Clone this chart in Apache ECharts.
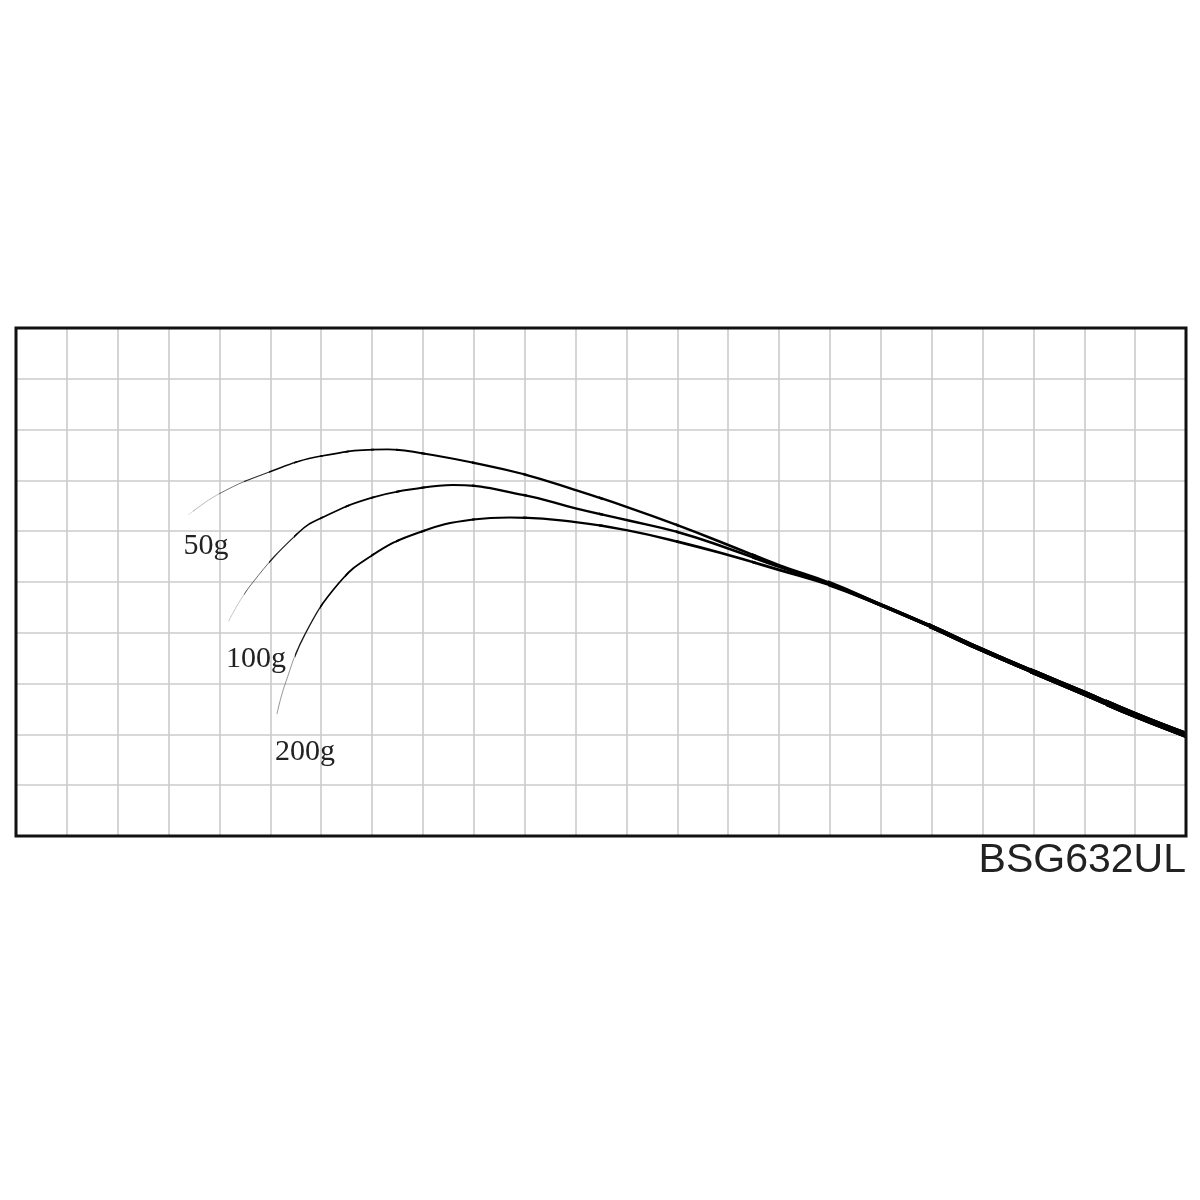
<!DOCTYPE html>
<html>
<head>
<meta charset="utf-8">
<script src="https://cdn.jsdelivr.net/npm/echarts@6/dist/echarts.min.js"></script>
<style>
html, body { margin: 0; padding: 0; background: #fff; }
#main { width: 1200px; height: 1200px; }
</style>
</head>
<body>
<div id="main"></div>
<script>
// rod bend curves, in grid cells (x: 0..23 columns, y: 0..10 rows from the bottom)
var x50  = [3.39, 4.00, 4.99, 6.00, 7.31, 8.01, 8.98, 9.99, 11.0, 12.0, 13.0, 14.0, 15.0, 16.0];
var y50  = [6.32, 6.74, 7.17, 7.48, 7.61, 7.53, 7.35, 7.12, 6.81, 6.48, 6.12, 5.73, 5.33, 4.98];
var x100 = [4.18, 4.63, 5.55, 6.00, 7.00, 8.01, 8.59, 9.99, 11.0, 12.0, 13.02, 14.0, 15.0, 16.0];
var y100 = [4.23, 4.96, 5.97, 6.26, 6.66, 6.86, 6.91, 6.71, 6.45, 6.22, 5.98, 5.66, 5.30, 4.96];
var x200 = [5.13, 5.29, 5.68, 6.34, 6.99, 7.88, 8.99, 9.71, 11.0, 12.0, 13.02, 14.0, 15.0, 16.0];
var y200 = [2.40, 2.99, 3.97, 4.97, 5.52, 5.96, 6.23, 6.27, 6.18, 6.02, 5.79, 5.53, 5.24, 4.94];
// shared butt section
var xTrunk = [17, 18, 19, 20, 21, 22, 23];
var yTrunk = [4.55, 4.12, 3.66, 3.23, 2.81, 2.38, 1.99];
var curveNames = ['50g', '100g', '200g'];
var modelName = 'BSG632UL';

var L = 16, T = 328, W = 1170, H = 508;
var cols = 23, rows = 10;
var cell = W / cols;

function toPoints(xs, ys) {
    var ax = xs.concat(xTrunk), ay = ys.concat(yTrunk);
    return ax.map(function (x, i) { return [x, ay[i]]; });
}
var curves = [toPoints(x50, y50), toPoints(x100, y100), toPoints(x200, y200)];

// length along the curve from its tip up to x (in cells)
function arcTo(pts, x) {
    var s = 0;
    for (var i = 1; i < pts.length; i++) {
        var a = pts[i - 1], b = pts[i];
        if (b[0] <= x) {
            s += Math.hypot(b[0] - a[0], b[1] - a[1]);
        } else {
            var f = Math.max(0, (x - a[0]) / (b[0] - a[0]));
            s += f * Math.hypot(b[0] - a[0], b[1] - a[1]);
            break;
        }
    }
    return s;
}

// bands used only to taper the line width (tip thin & gray, butt thick)
var bandEdges = [3, 3.5, 4, 4.5, 5, 5.5, 6, 6.5, 7, 7.5, 8, 9, 10, 11.5, 13, 14.5, 16, 18, 20, 21.5, 23];
var bandWidth = [1.2, 1.2, 1.3, 1.4, 1.5, 1.6, 1.7, 1.8, 1.9, 2.0, 2.1, 2.2, 2.3, 2.4, 2.6, 2.8, 3.6, 4.4, 5.2, 6.0];

var grids = [{ left: L, top: T, width: W, height: H, show: true, z: 10,
               borderColor: '#111', borderWidth: 3, backgroundColor: 'transparent' }];
var xAxes = [{ type: 'value', gridIndex: 0, min: 0, max: cols, interval: 1,
               axisLine: { show: false }, axisTick: { show: false }, axisLabel: { show: false },
               splitLine: { lineStyle: { color: '#cbcbcb', width: 1.6 } } }];
var yAxes = [{ type: 'value', gridIndex: 0, min: 0, max: rows, interval: 1,
               axisLine: { show: false }, axisTick: { show: false }, axisLabel: { show: false },
               splitLine: { lineStyle: { color: '#cbcbcb', width: 1.6 } } }];
var series = [];

for (var k = 0; k < bandEdges.length - 1; k++) {
    var a = bandEdges[k], b = bandEdges[k + 1];
    var gi = grids.length;
    grids.push({ left: L + a * cell, top: T, width: (b - a) * cell, height: H, show: false });
    xAxes.push({ type: 'value', gridIndex: gi, min: a, max: b, show: false });
    yAxes.push({ type: 'value', gridIndex: gi, min: 0, max: rows, show: false });
    curves.forEach(function (pts, c) {
        var tip = pts[0][0];
        if (b <= tip) return;
        var mid = (Math.max(a, tip) + b) / 2;
        var t = Math.min(1, arcTo(pts, mid) / 2.4);
        var w = 0.5 + (bandWidth[k] - 0.5) * t;
        var g = Math.round(190 * Math.pow(1 - t, 1.4));
        series.push({
            type: 'line',
            name: curveNames[c],
            xAxisIndex: gi,
            yAxisIndex: gi,
            data: pts,
            smooth: 0.45,
            symbol: 'none',
            clip: true,
            lineStyle: { width: w, color: 'rgb(' + g + ',' + g + ',' + g + ')' }
        });
    });
}

var labelFont = '30px "Liberation Serif", "DejaVu Serif", serif';
var myChart = echarts.init(document.getElementById('main'));
var option = {
    animation: false,
    backgroundColor: '#fff',
    grid: grids,
    xAxis: xAxes,
    yAxis: yAxes,
    series: series,
    graphic: [
        { type: 'text', x: 206, y: 546, z: 20,
          style: { text: curveNames[0], font: labelFont, fill: '#222', textAlign: 'center', textVerticalAlign: 'middle', align: 'center', verticalAlign: 'middle' } },
        { type: 'text', x: 256, y: 659, z: 20,
          style: { text: curveNames[1], font: labelFont, fill: '#222', textAlign: 'center', textVerticalAlign: 'middle', align: 'center', verticalAlign: 'middle' } },
        { type: 'text', x: 305, y: 752, z: 20,
          style: { text: curveNames[2], font: labelFont, fill: '#222', textAlign: 'center', textVerticalAlign: 'middle', align: 'center', verticalAlign: 'middle' } },
        { type: 'text', x: 1186, y: 861, z: 20,
          style: { text: modelName, font: '41px "Liberation Sans", Arial, sans-serif', fill: '#222', textAlign: 'right', textVerticalAlign: 'middle', align: 'right', verticalAlign: 'middle' } }
    ]
};
myChart.setOption(option);
</script>
</body>
</html>
